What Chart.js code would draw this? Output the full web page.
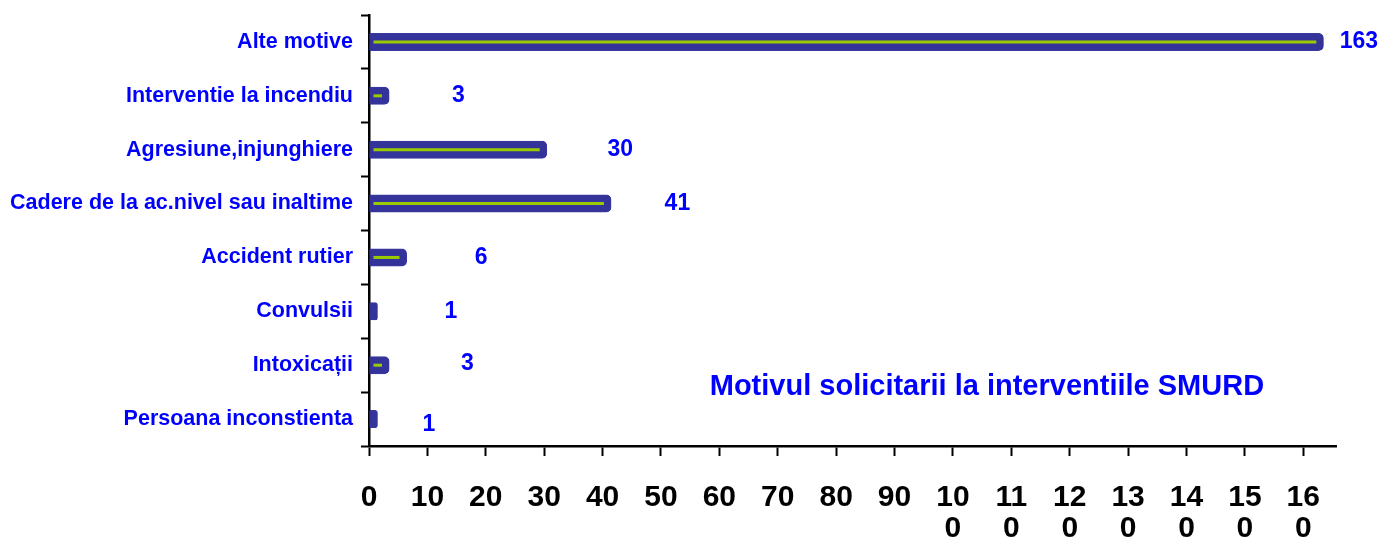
<!DOCTYPE html>
<html>
<head>
<meta charset="utf-8">
<script src="https://cdn.jsdelivr.net/npm/chart.js@4/dist/chart.umd.min.js"></script>
<style>
  html, body { margin: 0; padding: 0; background: #ffffff; }
  #wrap { width: 1381px; height: 542px; position: relative; }
</style>
</head>
<body>
<div id="wrap"><canvas id="c" width="1381" height="542"></canvas></div>
<script>
const categories = [
  'Alte motive',
  'Interventie la incendiu',
  'Agresiune,injunghiere',
  'Cadere de la ac.nivel sau inaltime',
  'Accident rutier',
  'Convulsii',
  'Intoxicații',
  'Persoana inconstienta'
];
const values = [163, 3, 30, 41, 6, 1, 3, 1];
const chartTitle = 'Motivul solicitarii la interventiile SMURD';
const xTickStep = 10;
const xMax = 165.6;

const FONT = 'Arial, "Liberation Sans", Helvetica, sans-serif';

const innerLinePlugin = {
  id: 'innerLine',
  afterDatasetsDraw(chart) {
    const ctx = chart.ctx;
    const meta = chart.getDatasetMeta(0);
    ctx.save();
    ctx.strokeStyle = '#99cc00';
    ctx.lineWidth = 3;
    meta.data.forEach(bar => {
      const x0 = bar.base + 4;
      const x1 = bar.x - 4.5;
      if (x1 - x0 > 2) {
        ctx.beginPath();
        ctx.moveTo(x0, bar.y);
        ctx.lineTo(x1, bar.y);
        ctx.stroke();
      }
    });
    ctx.restore();
  }
};

const valueLabelPlugin = {
  id: 'valueLabels',
  afterDatasetsDraw(chart, args, opts) {
    const ctx = chart.ctx;
    const meta = chart.getDatasetMeta(0);
    const xs = chart.scales.x;
    ctx.save();
    ctx.fillStyle = '#0000ff';
    ctx.font = 'bold 23px ' + FONT;
    ctx.textAlign = 'center';
    ctx.textBaseline = 'middle';
    meta.data.forEach((bar, i) => {
      const v = chart.data.datasets[0].data[i];
      const dx = opts.dx[i] || 0;
      const dy = opts.dy[i] || 0;
      ctx.fillText(String(v), xs.getPixelForValue(v) + dx, bar.y + dy);
    });
    ctx.restore();
  }
};

const innerTitlePlugin = {
  id: 'innerTitle',
  afterDraw(chart, args, opts) {
    const a = chart.chartArea;
    const ctx = chart.ctx;
    ctx.save();
    ctx.fillStyle = '#0000ff';
    ctx.font = 'bold 29px ' + FONT;
    ctx.textAlign = 'center';
    ctx.textBaseline = 'middle';
    ctx.fillText(opts.text, a.left + (a.right - a.left) * opts.fx, a.top + (a.bottom - a.top) * opts.fy);
    ctx.restore();
  }
};

new Chart(document.getElementById('c'), {
  type: 'bar',
  data: {
    labels: categories,
    datasets: [{
      data: values,
      backgroundColor: '#333399',
      borderColor: '#3a3a9e',
      borderWidth: 1,
      borderRadius: 5,
      borderSkipped: 'start',
      inflateAmount: 3,
      barThickness: 12
    }]
  },
  options: {
    indexAxis: 'y',
    responsive: false,
    animation: false,
    layout: { padding: { top: 15, right: 45, left: 0, bottom: 0 } },
    plugins: {
      legend: { display: false },
      tooltip: { enabled: false },
      title: { display: false },
      valueLabels: {
        dx: [38, 72, 76, 69, 77, 76, 81, 54],
        dy: [0, 0, 0, 0, 0, 0, -2, 6]
      },
      innerTitle: { text: chartTitle, fx: 0.639, fy: 0.863 }
    },
    scales: {
      x: {
        min: 0,
        max: xMax,
        border: { display: true, color: '#000', width: 2.5 },
        grid: { drawOnChartArea: false, drawTicks: true, tickLength: 10, tickWidth: 2, tickColor: '#000' },
        ticks: {
          stepSize: xTickStep,
          includeBounds: false,
          maxRotation: 0,
          autoSkip: false,
          padding: 26,
          color: '#000',
          font: { family: FONT, size: 30, weight: 'bold', lineHeight: 1.03 },
          callback: (v) => {
            const s = String(v);
            return s.length > 2 ? [s.slice(0, 2), s.slice(2)] : s;
          }
        },
        afterFit: (s) => { s.height = 96; s.paddingLeft = 0; s.paddingRight = 0; }
      },
      y: {
        z: 1,
        border: { display: true, color: '#000', width: 2.5 },
        grid: { drawOnChartArea: false, drawTicks: true, tickLength: 8, tickWidth: 2, tickColor: '#000', offset: true },
        ticks: {
          padding: 8,
          color: '#0000ff',
          autoSkip: false,
          font: { family: FONT, size: 21.5, weight: 'bold' }
        },
        afterFit: (s) => { s.width = 369; s.paddingTop = 0; s.paddingBottom = 0; }
      }
    }
  },
  plugins: [innerLinePlugin, valueLabelPlugin, innerTitlePlugin]
});
</script>
</body>
</html>
